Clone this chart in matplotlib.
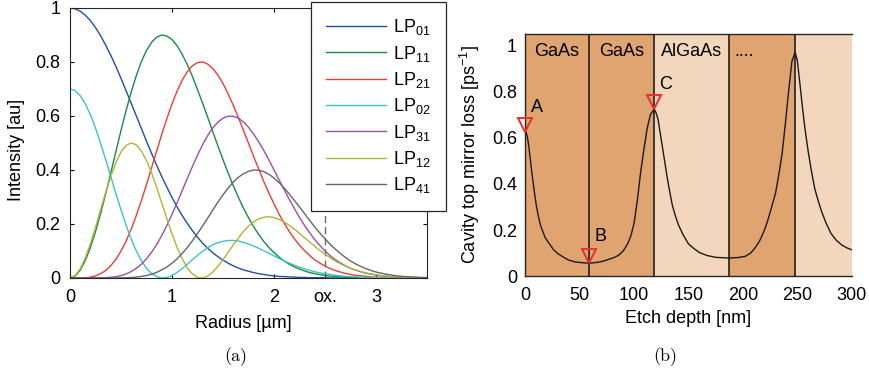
import matplotlib
matplotlib.use('Agg')
import matplotlib.pyplot as plt
import numpy as np

plt.rcParams['font.family'] = 'Liberation Sans'
plt.rcParams['mathtext.fontset'] = 'custom'
plt.rcParams['mathtext.rm'] = 'Liberation Sans'
plt.rcParams['mathtext.default'] = 'regular'
plt.rcParams['font.size'] = 13

# (a) mode intensity profiles, read every 0.05 um (one row = 0.5 um)
radius = np.round(np.arange(0, 3.52, 0.05), 2)
lp01 = [1.000, 0.997, 0.988, 0.973, 0.953, 0.927, 0.897, 0.862, 0.824, 0.783,
        0.739, 0.693, 0.647, 0.600, 0.553, 0.506, 0.461, 0.417, 0.375, 0.336,
        0.298, 0.263, 0.231, 0.202, 0.175, 0.151, 0.129, 0.110, 0.093, 0.079,
        0.066, 0.055, 0.045, 0.037, 0.030, 0.025, 0.020, 0.016, 0.013, 0.010,
        0.008, 0.006, 0.005, 0.004, 0.003, 0.002, 0.002, 0.001, 0.001, 0.001,
        0.001, 0, 0, 0, 0, 0, 0, 0, 0, 0,
        0, 0, 0, 0, 0, 0, 0, 0, 0, 0,
        0]
lp11 = [0, 0.007, 0.029, 0.065, 0.113, 0.172, 0.239, 0.313, 0.390, 0.469,
        0.547, 0.621, 0.689, 0.750, 0.802, 0.843, 0.873, 0.892, 0.900, 0.896,
        0.883, 0.860, 0.828, 0.790, 0.746, 0.698, 0.647, 0.595, 0.541, 0.489,
        0.438, 0.389, 0.342, 0.299, 0.259, 0.223, 0.190, 0.161, 0.135, 0.113,
        0.094, 0.077, 0.063, 0.051, 0.041, 0.033, 0.026, 0.020, 0.016, 0.012,
        0.010, 0.007, 0.006, 0.004, 0.003, 0.002, 0.002, 0.001, 0.001, 0.001,
        0, 0, 0, 0, 0, 0, 0, 0, 0, 0,
        0]
lp21 = [0, 0, 0, 0.001, 0.003, 0.008, 0.016, 0.028, 0.046, 0.069,
        0.100, 0.137, 0.181, 0.232, 0.287, 0.347, 0.409, 0.471, 0.533, 0.591,
        0.645, 0.693, 0.733, 0.764, 0.786, 0.798, 0.800, 0.792, 0.776, 0.751,
        0.720, 0.682, 0.640, 0.595, 0.547, 0.499, 0.450, 0.403, 0.357, 0.314,
        0.274, 0.236, 0.203, 0.172, 0.145, 0.121, 0.101, 0.083, 0.067, 0.055,
        0.044, 0.035, 0.028, 0.022, 0.017, 0.013, 0.010, 0.008, 0.006, 0.004,
        0.003, 0.002, 0.002, 0.001, 0.001, 0.001, 0, 0, 0, 0,
        0]
lp02 = [0.700, 0.694, 0.675, 0.645, 0.604, 0.555, 0.498, 0.438, 0.375, 0.312,
        0.252, 0.195, 0.144, 0.100, 0.064, 0.036, 0.016, 0.005, 0, 0.002,
        0.009, 0.021, 0.035, 0.051, 0.068, 0.084, 0.099, 0.112, 0.123, 0.131,
        0.136, 0.139, 0.139, 0.137, 0.132, 0.126, 0.118, 0.110, 0.101, 0.091,
        0.082, 0.072, 0.063, 0.055, 0.047, 0.040, 0.034, 0.028, 0.023, 0.019,
        0.016, 0.013, 0.010, 0.008, 0.006, 0.005, 0.004, 0.003, 0.002, 0.002,
        0.001, 0.001, 0.001, 0.001, 0, 0, 0, 0, 0, 0,
        0]
lp31 = [0, 0, 0, 0, 0, 0, 0.001, 0.001, 0.003, 0.005,
        0.009, 0.015, 0.024, 0.036, 0.051, 0.071, 0.096, 0.124, 0.158, 0.195,
        0.236, 0.279, 0.324, 0.369, 0.413, 0.455, 0.494, 0.528, 0.556, 0.577,
        0.592, 0.599, 0.599, 0.592, 0.578, 0.558, 0.533, 0.504, 0.472, 0.437,
        0.400, 0.363, 0.327, 0.291, 0.257, 0.224, 0.194, 0.167, 0.142, 0.120,
        0.100, 0.083, 0.068, 0.056, 0.045, 0.036, 0.029, 0.023, 0.018, 0.014,
        0.011, 0.008, 0.006, 0.005, 0.004, 0.003, 0.002, 0.001, 0.001, 0.001,
        0.001]
lp12 = [0, 0.009, 0.034, 0.075, 0.127, 0.188, 0.253, 0.318, 0.377, 0.428,
        0.467, 0.491, 0.500, 0.493, 0.470, 0.435, 0.389, 0.335, 0.277, 0.219,
        0.163, 0.113, 0.071, 0.037, 0.015, 0.002, 0, 0.007, 0.022, 0.043,
        0.068, 0.095, 0.122, 0.148, 0.172, 0.192, 0.208, 0.219, 0.225, 0.227,
        0.224, 0.217, 0.207, 0.195, 0.181, 0.165, 0.149, 0.133, 0.117, 0.102,
        0.088, 0.075, 0.063, 0.053, 0.044, 0.036, 0.029, 0.024, 0.019, 0.015,
        0.012, 0.009, 0.007, 0.005, 0.004, 0.003, 0.002, 0.002, 0.001, 0.001,
        0.001]
lp41 = [0, 0, 0, 0, 0, 0, 0, 0, 0, 0,
        0.001, 0.001, 0.002, 0.003, 0.006, 0.009, 0.014, 0.021, 0.030, 0.041,
        0.055, 0.071, 0.091, 0.113, 0.138, 0.165, 0.193, 0.222, 0.252, 0.281,
        0.308, 0.333, 0.355, 0.373, 0.386, 0.395, 0.400, 0.399, 0.394, 0.384,
        0.370, 0.353, 0.333, 0.311, 0.287, 0.263, 0.238, 0.213, 0.189, 0.166,
        0.145, 0.125, 0.107, 0.091, 0.076, 0.063, 0.052, 0.043, 0.035, 0.028,
        0.022, 0.018, 0.014, 0.011, 0.008, 0.006, 0.005, 0.004, 0.003, 0.002,
        0.002]

mode_names = ['LP$_{01}$', 'LP$_{11}$', 'LP$_{21}$', 'LP$_{02}$',
              'LP$_{31}$', 'LP$_{12}$', 'LP$_{41}$']
mode_colors = ['#1f4fa3', '#1b8a48', '#f03a3a', '#3cc4c4',
               '#9452a6', '#b3b333', '#666666']
modes = [lp01, lp11, lp21, lp02, lp31, lp12, lp41]

ox_radius = 2.5
radius_ticks = [0, 1, 2, 2.5, 3]
radius_ticklabels = ['0', '1', '2', 'ox.', '3']

# (b) mirror loss vs etch depth
depth = [0, 1, 2, 3, 4, 5, 6, 8, 10, 12, 14, 16, 18, 20, 23, 26, 30, 35, 40, 45,
         50, 55, 58, 62, 67, 72, 77, 82, 86, 90, 94, 97, 100, 103, 106, 109, 112,
         115, 118.5, 120, 122, 124, 126, 128, 130, 132, 135, 138, 141, 145, 150,
         155, 160, 167, 175, 187, 195, 202, 207, 211, 215, 218, 221, 224, 227,
         230, 233, 236, 239, 242, 245, 248, 250, 252, 255, 257, 260, 263, 266,
         269, 272, 276, 281, 286, 291, 296, 300]
loss = [0.63, 0.62, 0.60, 0.57, 0.53, 0.49, 0.45, 0.375, 0.31, 0.26, 0.22, 0.195,
        0.17, 0.155, 0.135, 0.115, 0.098, 0.083, 0.07, 0.063, 0.06, 0.058, 0.057,
        0.058, 0.061, 0.066, 0.074, 0.082, 0.092, 0.11, 0.14, 0.175, 0.23, 0.33,
        0.45, 0.55, 0.64, 0.70, 0.723, 0.71, 0.68, 0.62, 0.56, 0.50, 0.44, 0.385,
        0.31, 0.26, 0.22, 0.18, 0.14, 0.12, 0.103, 0.09, 0.082, 0.079, 0.081,
        0.086, 0.1, 0.122, 0.15, 0.18, 0.215, 0.26, 0.31, 0.36, 0.44, 0.53, 0.66,
        0.80, 0.93, 0.97, 0.935, 0.85, 0.72, 0.64, 0.54, 0.455, 0.38, 0.33, 0.285,
        0.235, 0.185, 0.155, 0.135, 0.122, 0.115]

layer_bounds = [0, 58.3, 118.5, 187.2, 247.9, 300]
layer_colors = ['#dfa46f', '#dfa46f', '#f2d7bc', '#dfa46f', '#f2d7bc']
layer_names = ['GaAs', 'GaAs', 'AlGaAs']
dots_x = 192.5

point_x = [0, 58.3, 118.5]
point_y = [0.655, 0.088, 0.754]
point_names = ['A', 'B', 'C']
point_label_x = [10.8, 69.3, 128.7]
point_label_y = [0.73, 0.173, 0.83]

fig = plt.figure(figsize=(8.69, 3.75), dpi=100)
ax1 = fig.add_axes([0.0806, 0.2587, 0.4108, 0.72])
ax2 = fig.add_axes([0.6045, 0.2632, 0.3756, 0.6469])

# ---- left panel
for name, vals, col in zip(mode_names, modes, mode_colors):
    ax1.plot(radius, vals, color=col, lw=1.0, label=name)
ax1.axvline(ox_radius, color='0.4', ls=(0, (5, 3)), lw=1.0, zorder=0)
ax1.set_xlim(0, 3.5)
ax1.set_ylim(0, 1)
ax1.set_xticks(radius_ticks, radius_ticklabels)
ax1.set_yticks([0, 0.2, 0.4, 0.6, 0.8, 1], ['0', '0.2', '0.4', '0.6', '0.8', '1'])
ax1.tick_params(direction='in', length=3, top=True, right=True, width=0.8)
ax1.tick_params(axis='x', pad=8)
ax1.tick_params(axis='y', pad=7)
for s in ax1.spines.values():
    s.set_color('0.15')
ax1.set_xlabel('Radius [µm]')
ax1.set_ylabel('Intensity [au]')
ax1.xaxis.set_label_coords(0.485, -0.137)
ax1.yaxis.set_label_coords(-0.126, 0.474)

leg = ax1.legend(loc='upper left', bbox_to_anchor=(311 / 869, 373 / 375),
                 bbox_transform=fig.transFigure, fancybox=False, framealpha=1,
                 edgecolor='0.15', handlelength=3.3, handletextpad=0.4,
                 borderpad=0.85, labelspacing=0.35, borderaxespad=0)
leg.get_frame().set_linewidth(0.9)

# ---- right panel
for lo, hi, c in zip(layer_bounds[:-1], layer_bounds[1:], layer_colors):
    ax2.axvspan(lo, hi, color=c, lw=0, zorder=0)
for b in layer_bounds[1:-1]:
    ax2.axvline(b, color='0.12', lw=1.2, zorder=1)
ax2.plot(depth, loss, color='0.1', lw=1.0, zorder=2)
ax2.plot(point_x, point_y, 'v', ms=10.5, mfc='none', mec='#e8302a', mew=1.4,
         zorder=3, clip_on=False)
for x, y, t in zip(point_label_x, point_label_y, point_names):
    ax2.text(x, y, t, ha='center', va='center', fontsize=13)
for lo, hi, t in zip(layer_bounds[:3], layer_bounds[1:4], layer_names):
    ax2.text((lo + hi) / 2, 0.955, t, ha='center', va='baseline', fontsize=13)
ax2.text(dots_x, 0.955, '....', ha='left', va='baseline', fontsize=13)

ax2.set_xlim(0, 300)
ax2.set_ylim(0, 1.05)
ax2.set_xticks([0, 50, 100, 150, 200, 250, 300])
ax2.set_yticks([0, 0.2, 0.4, 0.6, 0.8, 1], ['0', '0.2', '0.4', '0.6', '0.8', '1'])
ax2.tick_params(length=0)
ax2.tick_params(axis='x', pad=8)
ax2.tick_params(axis='y', pad=6)
ax2.spines['right'].set_visible(False)
for s in ['left', 'top', 'bottom']:
    ax2.spines[s].set_color('0.15')
    ax2.spines[s].set_linewidth(1.0)
ax2.set_xlabel('Etch depth [nm]')
ax2.set_ylabel('Cavity top mirror loss [ps$^{-1}$]')
ax2.xaxis.set_label_coords(0.498, -0.139)
ax2.yaxis.set_label_coords(-0.134, 0.5)

fig.text(236 / 869, 0.048, '(a)', family='cmr10', fontsize=13, ha='center', va='center')
fig.text(665 / 869, 0.048, '(b)', family='cmr10', fontsize=13, ha='center', va='center')

fig.savefig('out.png', dpi=100)
